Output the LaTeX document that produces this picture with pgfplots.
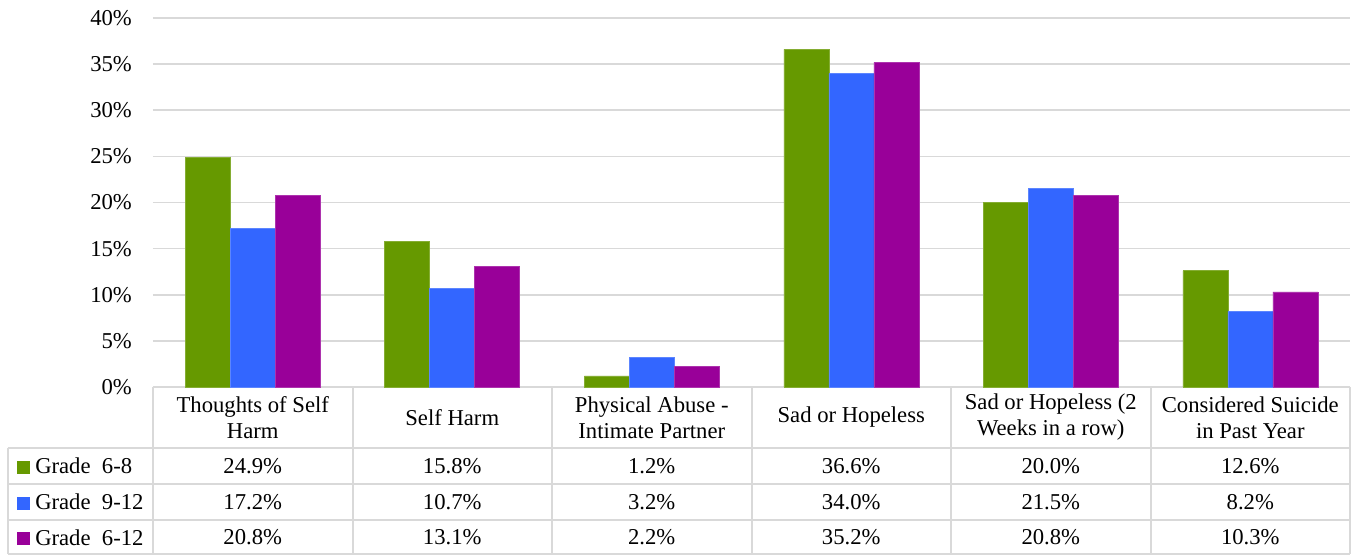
\documentclass[border=0pt]{standalone}
\usepackage{pgfplots}
\usepackage{pgfplotstable}
\usepackage{fontspec}
\setmainfont{Liberation Serif}
\pgfplotsset{compat=1.18}
\definecolor{cA}{HTML}{669900}
\definecolor{cB}{HTML}{3366FF}
\definecolor{cC}{HTML}{990099}
\definecolor{gridc}{HTML}{D9D9D9}

\pgfplotstableread{
x g68 g912 g612
0 24.9 17.2 20.8
1 15.8 10.7 13.1
2 1.2 3.2 2.2
3 36.6 34.0 35.2
4 20.0 21.5 20.8
5 12.6 8.2 10.3
}\datatable

\begin{document}
\fontsize{17}{19.5}\selectfont
\begin{tikzpicture}
\begin{axis}[
  scale only axis, width=897.75pt, height=276.75pt,
  xmin=-0.5, xmax=5.5, ymin=0, ymax=40,
  clip=false,
  axis line style={draw=none},
  major tick length=0pt,
  ytick={0,5,...,40},
  yticklabel={\pgfmathprintnumber[assume math mode=true]{\tick}\%},
  yticklabel style={xshift=-10pt},
  ymajorgrids, grid style={color=gridc, line width=1.2pt},
  xtick={0,...,5},
  xticklabels={{Thoughts of Self\\Harm},{Self Harm},{Physical Abuse -\\Intimate Partner},{Sad or Hopeless},{Sad or Hopeless (2\\Weeks in a row)},{Considered Suicide\\in Past Year}},
  xticklabel style={align=center, anchor=center, yshift=-22.9pt},
]
% table grid
\draw[gridc, line width=1.5pt] (axis cs:-1.2268,-6.61) -- (axis cs:5.5,-6.61);
\draw[gridc, line width=1.5pt] (axis cs:-1.2268,-10.51) -- (axis cs:5.5,-10.51);
\draw[gridc, line width=1.5pt] (axis cs:-1.2268,-14.42) -- (axis cs:5.5,-14.42);
\draw[gridc, line width=1.5pt] (axis cs:-1.2268,-18.1) -- (axis cs:5.5,-18.1);
\draw[gridc, line width=1.5pt] (axis cs:-1.2268,-6.61) -- (axis cs:-1.2268,-18.1);
\draw[gridc, line width=1.5pt] (axis cs:-0.5,0) -- (axis cs:-0.5,-18.1);
\draw[gridc, line width=1.5pt] (axis cs:0.5,0) -- (axis cs:0.5,-18.1);
\draw[gridc, line width=1.5pt] (axis cs:1.5,0) -- (axis cs:1.5,-18.1);
\draw[gridc, line width=1.5pt] (axis cs:2.5,0) -- (axis cs:2.5,-18.1);
\draw[gridc, line width=1.5pt] (axis cs:3.5,0) -- (axis cs:3.5,-18.1);
\draw[gridc, line width=1.5pt] (axis cs:4.5,0) -- (axis cs:4.5,-18.1);
\draw[gridc, line width=1.5pt] (axis cs:5.5,0) -- (axis cs:5.5,-18.1);
% bars
\addplot[ybar, bar width=33.75pt, bar shift=-33.75pt, fill=cA, draw=cA!80!white] table[x=x,y=g68] {\datatable};
\addplot[ybar, bar width=33.75pt, bar shift=0pt, fill=cB, draw=cB!80!white] table[x=x,y=g912] {\datatable};
\addplot[ybar, bar width=33.75pt, bar shift=33.75pt, fill=cC, draw=cC!80!white] table[x=x,y=g612] {\datatable};
% table values
\addplot[draw=none, mark=none, nodes near coords={\pgfmathprintnumber[fixed,fixed zerofill,precision=1,assume math mode=true]{\pgfplotspointmeta}\%}, nodes near coords style={anchor=center, inner sep=0pt}, point meta=\thisrow{g68}] table[x=x, y expr=-8.56] {\datatable};
\addplot[draw=none, mark=none, nodes near coords={\pgfmathprintnumber[fixed,fixed zerofill,precision=1,assume math mode=true]{\pgfplotspointmeta}\%}, nodes near coords style={anchor=center, inner sep=0pt}, point meta=\thisrow{g912}] table[x=x, y expr=-12.47] {\datatable};
\addplot[draw=none, mark=none, nodes near coords={\pgfmathprintnumber[fixed,fixed zerofill,precision=1,assume math mode=true]{\pgfplotspointmeta}\%}, nodes near coords style={anchor=center, inner sep=0pt}, point meta=\thisrow{g612}] table[x=x, y expr=-16.31] {\datatable};
% row labels
\node[anchor=west, inner sep=0pt] at (axis cs:-1.1817,-8.56) {\textcolor{cA}{\rule{9.75pt}{9.75pt}}\hspace{3.75pt}Grade\ \ 6-8};
\node[anchor=west, inner sep=0pt] at (axis cs:-1.1817,-12.47) {\textcolor{cB}{\rule{9.75pt}{9.75pt}}\hspace{3.75pt}Grade\ \ 9-12};
\node[anchor=west, inner sep=0pt] at (axis cs:-1.1817,-16.31) {\textcolor{cC}{\rule{9.75pt}{9.75pt}}\hspace{3.75pt}Grade\ \ 6-12};
\coordinate (BL) at (axis cs:-1.2669,-18.21);
\coordinate (TR) at (axis cs:5.53,41.95);
\end{axis}
\pgfresetboundingbox
\path[use as bounding box] (BL) rectangle (TR);
\end{tikzpicture}
\end{document}
